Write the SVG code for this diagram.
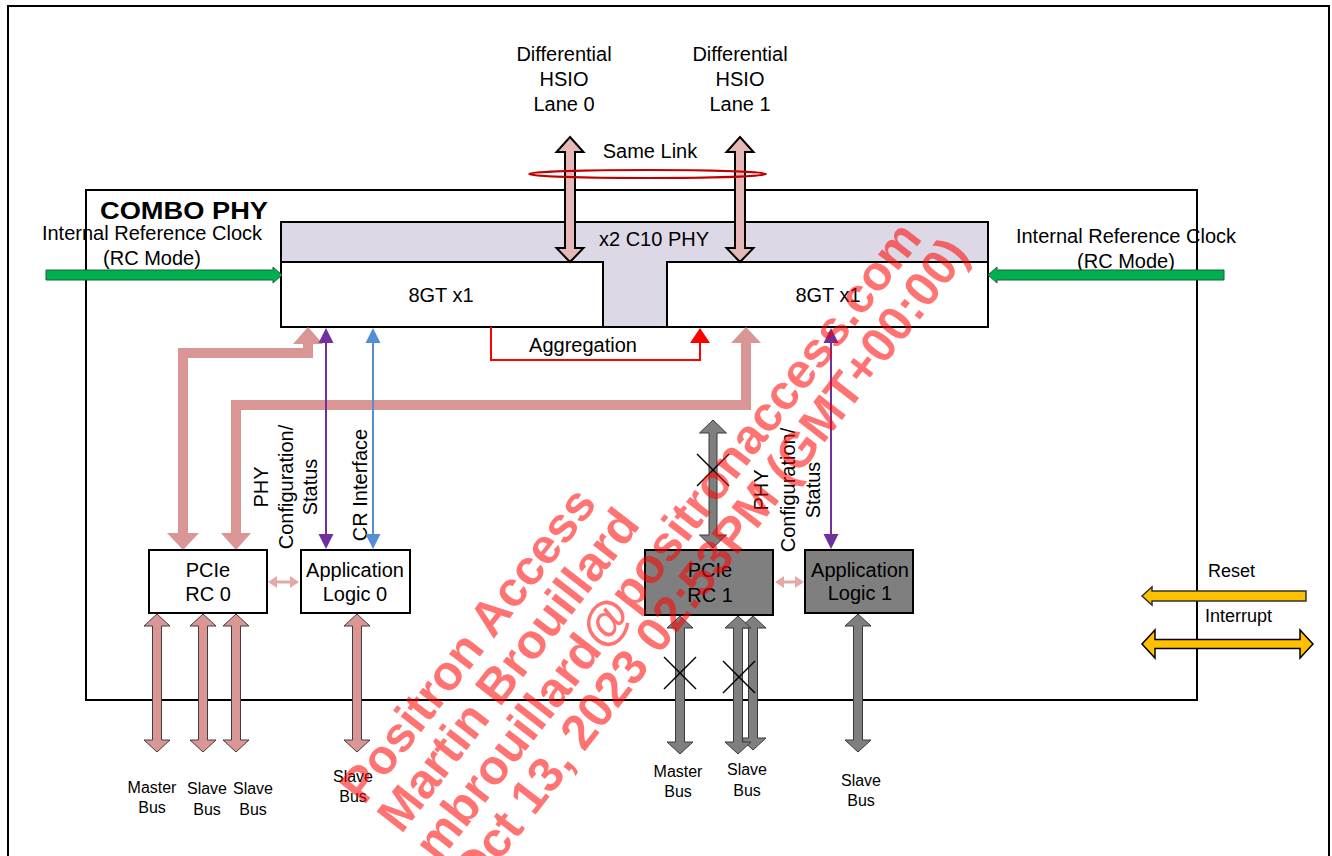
<svg xmlns="http://www.w3.org/2000/svg" width="1332" height="856" viewBox="0 0 1332 856">
<style>
text{font-family:"Liberation Sans",Arial,sans-serif;fill:#000}
.t20{font-size:20px}
.t16{font-size:16px}
.t18{font-size:18px}
.mid{text-anchor:middle}
.box{fill:#fff;stroke:#000;stroke-width:2}
.gbox{fill:#7F7F7F;stroke:#000;stroke-width:2}
.bus{fill:#D99694;stroke:#3f3f3f;stroke-width:1}
.gbus{fill:#7F7F7F;stroke:#3a3a3a;stroke-width:1}
.hsio{fill:#E6B9B8;stroke:#000;stroke-width:2}
.thick{fill:none;stroke:#D99694;stroke-width:10;stroke-linejoin:miter}
.pk{fill:#D99694}
.sm{fill:#E2A9A7}
.x{stroke:#000;stroke-width:1.5}
.wm{font-family:"Liberation Sans",Arial,sans-serif;font-weight:bold;font-size:49px;fill:#FF0000;fill-opacity:0.55}
</style>
<rect x="0" y="0" width="1332" height="856" fill="#fff"/>
<rect x="8" y="6" width="1321" height="870" fill="none" stroke="#000" stroke-width="2"/>

<g id="combo-phy">
<rect x="86" y="190" width="1111" height="510" fill="none" stroke="#000" stroke-width="2"/>
<text x="100" y="219" font-size="24" font-weight="bold" textLength="168" lengthAdjust="spacingAndGlyphs">COMBO PHY</text>
</g>

<g id="phy-c10">
<rect x="281" y="222" width="707" height="105" fill="#DDD8E6" stroke="#000" stroke-width="2"/>
<text class="t20 mid" x="654" y="246">x2 C10 PHY</text>
</g>
<g id="gt-left">
<rect class="box" x="281" y="262" width="322" height="65"/>
<text class="t20 mid" x="441" y="302">8GT x1</text>
</g>
<g id="gt-right">
<rect class="box" x="667" y="262" width="321" height="65"/>
<text class="t20 mid" x="828" y="302">8GT x1</text>
</g>

<g id="labels">
<text class="t20 mid" x="564" y="61">Differential</text>
<text class="t20 mid" x="564" y="86">HSIO</text>
<text class="t20 mid" x="564" y="111">Lane 0</text>
<text class="t20 mid" x="740" y="61">Differential</text>
<text class="t20 mid" x="740" y="86">HSIO</text>
<text class="t20 mid" x="740" y="111">Lane 1</text>
<text class="t20 mid" x="650" y="158">Same Link</text>
<text class="t20 mid" x="152" y="240">Internal Reference Clock</text>
<text class="t20 mid" x="152" y="265">(RC Mode)</text>
<text class="t20 mid" x="1126" y="243">Internal Reference Clock</text>
<text class="t20 mid" x="1126" y="268">(RC Mode)</text>
<text class="t20 mid" x="583" y="352">Aggregation</text>
<text class="t20 mid" transform="translate(268,487) rotate(-90)">PHY</text>
<text class="t20 mid" transform="translate(293,487) rotate(-90)">Configuration/</text>
<text class="t20 mid" transform="translate(317,487) rotate(-90)">Status</text>
<text class="t20 mid" transform="translate(367,485) rotate(-90)">CR Interface</text>
<text class="t20 mid" transform="translate(768,490) rotate(-90)">PHY</text>
<text class="t20 mid" transform="translate(795,490) rotate(-90)">Configuration/</text>
<text class="t20 mid" transform="translate(820,490) rotate(-90)">Status</text>
<text class="t18" x="1208" y="577">Reset</text>
<text class="t18" x="1205" y="622">Interrupt</text>
<text class="t16 mid" x="152" y="793">Master</text>
<text class="t16 mid" x="152" y="813">Bus</text>
<text class="t16 mid" x="207" y="794">Slave</text>
<text class="t16 mid" x="207" y="815">Bus</text>
<text class="t16 mid" x="253" y="794">Slave</text>
<text class="t16 mid" x="253" y="815">Bus</text>
<text class="t16 mid" x="353" y="782">Slave</text>
<text class="t16 mid" x="353" y="802">Bus</text>
<text class="t16 mid" x="678" y="777">Master</text>
<text class="t16 mid" x="678" y="797">Bus</text>
<text class="t16 mid" x="747" y="775">Slave</text>
<text class="t16 mid" x="747" y="796">Bus</text>
<text class="t16 mid" x="861" y="786">Slave</text>
<text class="t16 mid" x="861" y="806">Bus</text>
</g>

<g id="connectors">
<polygon class="hsio" points="570,137 583.5,152 575,152 575,248 583.5,248 570,262 556.5,248 565,248 565,152 556.5,152"/>
<polygon class="hsio" points="740,137 753.5,152 745,152 745,248 753.5,248 740,262 726.5,248 735,248 735,152 726.5,152"/>
<ellipse cx="647.5" cy="174" rx="118.5" ry="4" fill="none" stroke="#C00000" stroke-width="2"/>
<polygon points="46,270 273,270 273,267 282,275 273,283 273,280 46,280" fill="#00B050" stroke="#1f5f3a" stroke-width="1"/>
<polygon points="1224,270 997,270 997,267 988,275 997,283 997,280 1224,280" fill="#00B050" stroke="#1f5f3a" stroke-width="1"/>
<path class="thick" d="M308,342 V353 H183 V534"/>
<polygon class="pk" points="308,327 323,344 293,344"/>
<polygon class="pk" points="183,550 167,533 199,533"/>
<path class="thick" d="M746,341 V405 H236 V534"/>
<polygon class="pk" points="746,327 761,343 731,343"/>
<polygon class="pk" points="236,550 221,533 251,533"/>
<line x1="326" y1="340" x2="326" y2="536" stroke="#7030A0" stroke-width="2"/>
<polygon fill="#7030A0" points="326,328 333.5,343 318.5,343"/>
<polygon fill="#7030A0" points="326,549 333.5,534 318.5,534"/>
<line x1="373" y1="340" x2="373" y2="536" stroke="#558ED5" stroke-width="2"/>
<polygon fill="#558ED5" points="373,328 380.5,343 365.5,343"/>
<polygon fill="#558ED5" points="373,549 380.5,534 365.5,534"/>
<line x1="831" y1="340" x2="831" y2="536" stroke="#7030A0" stroke-width="2"/>
<polygon fill="#7030A0" points="831,328 838.5,343 823.5,343"/>
<polygon fill="#7030A0" points="831,549 838.5,534 823.5,534"/>
<polyline points="491,327 491,360 700,360 700,341" fill="none" stroke="#FF0000" stroke-width="2"/>
<polygon fill="#FF0000" points="700,328 710,343 690,343"/>
<polygon class="gbus" points="713,420 726.5,433 717,433 717,535 726.5,535 713,548 699.5,535 709,535 709,433 699.5,433"/>
<line class="x" x1="697" y1="454" x2="729" y2="486"/>
<line class="x" x1="729" y1="454" x2="697" y2="486"/>
<polygon class="sm" points="268,582 277,576 277,580.5 290,580.5 290,576 299,582 290,588 290,583.5 277,583.5 277,588"/>
<polygon class="sm" points="775,582 784,576 784,580.5 795,580.5 795,576 804,582 795,588 795,583.5 784,583.5 784,588"/>
<polygon class="bus" points="157,614 170,626 161.5,626 161.5,740 170,740 157,752 144,740 152.5,740 152.5,626 144,626"/>
<polygon class="bus" points="203,614 216,626 207.5,626 207.5,740 216,740 203,752 190,740 198.5,740 198.5,626 190,626"/>
<polygon class="bus" points="236,614 249,626 240.5,626 240.5,740 249,740 236,752 223,740 231.5,740 231.5,626 223,626"/>
<polygon class="bus" points="357,614 370,626 361.5,626 361.5,740 370,740 357,752 344,740 352.5,740 352.5,626 344,626"/>
<polygon class="gbus" points="680,616 693,628 684.5,628 684.5,742 693,742 680,754 667,742 675.5,742 675.5,628 667,628"/>
<polygon class="gbus" points="753,616 766,628 757.5,628 757.5,738 766,738 753,750 740,738 748.5,738 748.5,628 740,628"/>
<polygon class="gbus" points="738,616 751,628 742.5,628 742.5,742 751,742 738,754 725,742 733.5,742 733.5,628 725,628"/>
<polygon class="gbus" points="858,614 871,626 862.5,626 862.5,740 871,740 858,752 845,740 853.5,740 853.5,626 845,626"/>
<line class="x" x1="664" y1="657" x2="696" y2="689"/>
<line class="x" x1="696" y1="657" x2="664" y2="689"/>
<line class="x" x1="723" y1="661" x2="755" y2="693"/>
<line class="x" x1="755" y1="661" x2="723" y2="693"/>
<polygon points="1306,591 1152,591 1152,587 1142,596 1152,605 1152,601 1306,601" fill="#FFC000" stroke="#333" stroke-width="1.5"/>
<polygon points="1142,644 1155,630 1155,639.5 1300,639.5 1300,630 1313,644 1300,658 1300,648.5 1155,648.5 1155,658" fill="#FFC000" stroke="#000" stroke-width="1.5"/>
</g>

<g id="pcie-rc0">
<rect class="box" x="149" y="550" width="118" height="63"/>
<text class="t20 mid" x="208" y="577">PCIe</text>
<text class="t20 mid" x="208" y="601">RC 0</text>
</g>
<g id="app-logic-0">
<rect class="box" x="301" y="550" width="109" height="63"/>
<text class="t20 mid" x="355" y="577">Application</text>
<text class="t20 mid" x="355" y="601">Logic 0</text>
</g>
<g id="pcie-rc1">
<rect class="gbox" x="645" y="550" width="128" height="65"/>
<text class="t20 mid" x="710" y="577">PCIe</text>
<text class="t20 mid" x="710" y="602">RC 1</text>
</g>
<g id="app-logic-1">
<rect class="gbox" x="805" y="550" width="108" height="63"/>
<text class="t20 mid" x="860" y="577">Application</text>
<text class="t20 mid" x="860" y="600">Logic 1</text>
</g>

<g id="watermark">
<text class="wm" transform="translate(364,806) rotate(-52.2)">
<tspan x="0" y="0">Positron Access</tspan>
<tspan x="0" y="47">Martin Brouillard</tspan>
<tspan x="0" y="94">mbrouillard@positronaccess.com</tspan>
<tspan x="0" y="141">Oct 13, 2023 02:53PM (GMT+00:00)</tspan>
</text>
</g>
</svg>
